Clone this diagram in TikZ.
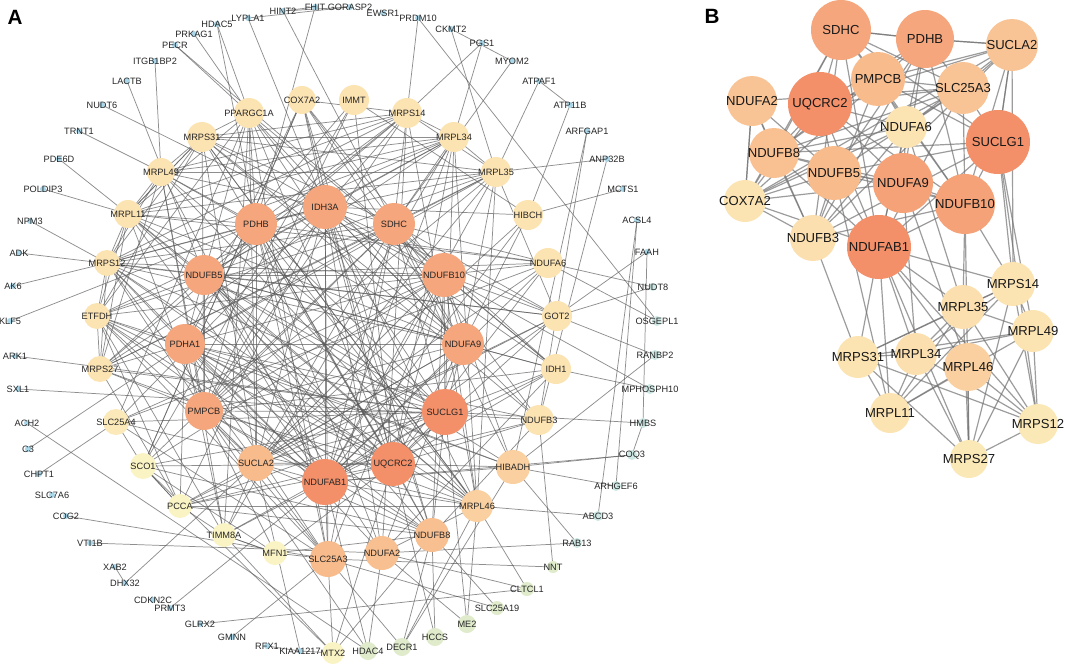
\documentclass[tikz,border=0pt]{standalone}
\usepackage{fontspec}
\setmainfont{Liberation Sans}
\pgfdeclarelayer{back}
\pgfdeclarelayer{edges}
\pgfsetlayers{back,edges,main}
\definecolor{cDeep}{HTML}{F3906A}
\definecolor{cHub}{HTML}{F6A67C}
\definecolor{cMid}{HTML}{F8BB8C}
\definecolor{cLight}{HTML}{FAD0A0}
\definecolor{cRing}{HTML}{FCE3B2}
\definecolor{cPale}{HTML}{FAF3C4}
\definecolor{cGreen}{HTML}{DFEBCB}
\definecolor{cCyan}{HTML}{CDE8E4}
\definecolor{cDot}{HTML}{A9D6E8}
\tikzset{
 gA/.style 2 args={circle,inner sep=0pt,minimum size=#1*1.5pt,fill=#2},
 lblA/.style={font=\fontsize{6.9}{7}\selectfont,text=black!85,inner sep=0pt},
 lblB/.style={font=\fontsize{9.8}{11}\selectfont,text=black!90,inner sep=0pt},
 edgeA/.style={draw=black!65,line width=0.55pt,opacity=0.68},
 edgeB/.style={draw=black!55,line width=0.9pt,opacity=0.7},
 panel/.style={font=\bfseries\fontsize{15.5}{16}\selectfont,inner sep=0pt}
}
\newcommand\CoreA[6]{\node[gA={#4}{#5},alias=#6,label={[lblA]center:#1}] (#1) at (#2,#3) {};}
\newcommand\DotA[5]{\node[gA={#4}{#5},label={[lblA]center:#1}] (#1) at (#2,#3) {};}
\newcommand\NodeB[6]{\node[gA={#4}{#5},alias=#6,label={[lblB]center:#1}] (b#1) at (#2,#3) {};}
\begin{document}
\begin{tikzpicture}[x=0.75pt,y=-0.75pt]
\useasboundingbox (0,0) rectangle (1065,664);
\begin{pgfonlayer}{back}\fill[white] (0,0) rectangle (1065,664);\end{pgfonlayer}
\node[panel] (pA) at (15,17) {A};
\node[panel] (pB) at (712,16) {B};
% ---------- Panel A: core nodes
\CoreA{IDH3A}{325}{207}{22}{cHub}{c1}
\CoreA{PDHB}{256}{224}{21}{cHub}{c2}
\CoreA{SDHC}{394}{224}{21}{cHub}{c3}
\CoreA{NDUFB5}{204}{275}{20}{cHub}{c4}
\CoreA{NDUFB10}{444}{275}{22}{cHub}{c5}
\CoreA{PDHA1}{185}{344}{20}{cHub}{c6}
\CoreA{NDUFA9}{463}{344}{21}{cHub}{c7}
\CoreA{PMPCB}{204}{411}{19}{cHub}{c8}
\CoreA{SUCLG1}{445}{412}{23}{cDeep}{c9}
\CoreA{SUCLA2}{256}{463}{18}{cMid}{c10}
\CoreA{NDUFAB1}{325}{482}{23}{cDeep}{c11}
\CoreA{UQCRC2}{393}{464}{22}{cDeep}{c12}
\CoreA{PPARGC1A}{249}{113}{15}{cRing}{c13}
\CoreA{COX7A2}{302}{100}{14}{cRing}{c14}
\CoreA{IMMT}{354}{100}{15}{cRing}{c15}
\CoreA{MRPS14}{407}{113}{15}{cRing}{c16}
\CoreA{MRPL34}{454}{137}{15}{cRing}{c17}
\CoreA{MRPL35}{496}{172}{15}{cRing}{c18}
\CoreA{HIBCH}{528}{215}{15}{cRing}{c19}
\CoreA{NDUFA6}{548}{263}{15}{cRing}{c20}
\CoreA{GOT2}{557}{316}{15}{cRing}{c21}
\CoreA{IDH1}{556}{369}{15}{cRing}{c22}
\CoreA{NDUFB3}{539}{420}{15}{cRing}{c23}
\CoreA{HIBADH}{513}{467}{17}{cLight}{c24}
\CoreA{MRPL46}{477}{506}{16}{cLight}{c25}
\CoreA{NDUFB8}{432}{535}{17}{cMid!80!cLight}{c26}
\CoreA{NDUFA2}{382}{553}{17}{cMid!80!cLight}{c27}
\CoreA{SLC25A3}{328}{559}{18}{cMid}{c28}
\CoreA{MFN1}{275}{553}{12}{cPale}{c29}
\CoreA{TIMM8A}{224}{535}{12}{cPale}{c30}
\CoreA{PCCA}{180}{506}{12}{cPale}{c31}
\CoreA{SCO1}{143}{466}{13}{cPale}{c32}
\CoreA{SLC25A4}{116}{422}{13}{cRing!60!cPale}{c33}
\CoreA{MRPS27}{100}{369}{13}{cRing}{c34}
\CoreA{ETFDH}{97}{316}{13}{cRing}{c35}
\CoreA{MRPS12}{107}{263}{13}{cRing}{c36}
\CoreA{MRPL11}{128}{214}{14}{cRing}{c37}
\CoreA{MRPL49}{161}{172}{14}{cRing}{c38}
\CoreA{MRPS31}{202}{137}{15}{cRing}{c39}
% ---------- Panel A: peripheral nodes
\DotA{HDAC5}{217}{24}{3}{cDot}
\DotA{LYPLA1}{248}{18}{3}{cDot}
\DotA{HINT2}{283}{11}{3}{cDot}
\DotA{FHIT}{315}{7}{3}{cDot}
\DotA{GORASP2}{350}{7}{3}{cDot}
\DotA{EWSR1}{383}{13}{3}{cDot}
\DotA{PRDM10}{418}{18}{3}{cDot}
\DotA{CKMT2}{451}{29}{3}{cDot}
\DotA{PGS1}{482}{43}{3}{cDot}
\DotA{MYOM2}{512}{61}{3}{cDot}
\DotA{ATPAF1}{539}{81}{3}{cDot}
\DotA{ATP11B}{570}{105}{3}{cDot}
\DotA{ARFGAP1}{587}{131}{3}{cDot}
\DotA{ANP32B}{607}{159}{3}{cDot}
\DotA{MCTS1}{623}{189}{3}{cDot}
\DotA{ACSL4}{637}{220}{3}{cDot}
\DotA{FAAH}{647}{252}{3}{cDot}
\DotA{NUDT8}{653}{287}{4}{cCyan}
\DotA{OSGEPL1}{657}{321}{5}{cCyan}
\DotA{RANBP2}{655}{355}{5}{cCyan}
\DotA{MPHOSPH10}{650}{389}{5}{cCyan}
\DotA{HMBS}{643}{423}{5}{cCyan}
\DotA{COQ3}{632}{455}{5}{cCyan}
\DotA{ARHGEF6}{616}{486}{5}{cCyan}
\DotA{ABCD3}{598}{516}{5}{cCyan}
\DotA{RAB13}{577}{543}{5}{cCyan}
\DotA{NNT}{553}{567}{6}{cGreen}
\DotA{CLTCL1}{527}{589}{7}{cGreen}
\DotA{SLC25A19}{497}{608}{7}{cGreen}
\DotA{ME2}{467}{624}{9}{cGreen}
\DotA{HCCS}{435}{637}{9}{cGreen}
\DotA{DECR1}{402}{647}{9}{cGreen}
\DotA{HDAC4}{368}{651}{9}{cGreen}
\DotA{MTX2}{333}{653}{11}{cPale}
\DotA{KIAA1217}{300}{651}{3}{cDot}
\DotA{RFX1}{267}{646}{3}{cDot}
\DotA{GMNN}{232}{637}{3}{cDot}
\DotA{GLRX2}{200}{624}{3}{cDot}
\DotA{PRMT3}{170}{608}{3}{cDot}
\DotA{CDKN2C}{153}{600}{3}{cDot}
\DotA{DHX32}{125}{583}{3}{cDot}
\DotA{XAB2}{115}{567}{3}{cDot}
\DotA{VTI1B}{90}{543}{3}{cDot}
\DotA{COG2}{66}{516}{3}{cDot}
\DotA{SLC7A6}{52}{495}{3}{cDot}
\DotA{CHPT1}{39}{474}{3}{cDot}
\DotA{C3}{28}{449}{3}{cDot}
\DotA{ACH2}{27}{423}{3}{cDot}
\DotA{SXL1}{18}{389}{3}{cDot}
\DotA{ARK1}{15}{356}{3}{cDot}
\DotA{KLF5}{10}{321}{3}{cDot}
\DotA{AK6}{13}{286}{3}{cDot}
\DotA{ADK}{19}{253}{3}{cDot}
\DotA{NPM3}{30}{221}{3}{cDot}
\DotA{POLDIP3}{43}{189}{3}{cDot}
\DotA{PDE6D}{59}{159}{3}{cDot}
\DotA{TRNT1}{79}{131}{3}{cDot}
\DotA{NUDT6}{102}{105}{3}{cDot}
\DotA{LACTB}{127}{81}{3}{cDot}
\DotA{ITGB1BP2}{155}{61}{3}{cDot}
\DotA{PECR}{175}{45}{3}{cDot}
\DotA{PRKAG1}{194}{34}{3}{cDot}
% ---------- Panel B nodes
\NodeB{NDUFA2}{752}{101}{25}{cMid!55!cLight}{t6}
\NodeB{SDHC}{841}{30}{30}{cHub}{t1}
\NodeB{PDHB}{925}{39}{29}{cHub}{t2}
\NodeB{SUCLA2}{1012}{45}{26}{cMid!55!cLight}{t3}
\NodeB{PMPCB}{878}{79}{27}{cMid}{t4}
\NodeB{SLC25A3}{963}{88}{26}{cMid!55!cLight}{t5}
\NodeB{UQCRC2}{820}{104}{32}{cDeep}{t7}
\NodeB{NDUFA6}{906}{127}{21}{cRing}{t8}
\NodeB{SUCLG1}{998}{142}{32}{cDeep}{t9}
\NodeB{NDUFB8}{774}{153}{25}{cMid!70!cLight}{t10}
\NodeB{NDUFB5}{834}{173}{27}{cMid}{t11}
\NodeB{NDUFA9}{903}{183}{30}{cHub!80!cDeep}{t12}
\NodeB{COX7A2}{745}{201}{21}{cRing}{t13}
\NodeB{NDUFB10}{965}{204}{30}{cHub!80!cDeep}{t14}
\NodeB{NDUFB3}{813}{238}{23}{cRing!80!cLight}{t15}
\NodeB{NDUFAB1}{879}{247}{32}{cDeep}{t16}
\NodeB{MRPS14}{1013}{284}{22}{cRing}{m1}
\NodeB{MRPL35}{963}{307}{22}{cRing!80!cLight}{m2}
\NodeB{MRPL49}{1033}{331}{21}{cRing}{m3}
\NodeB{MRPS31}{858}{357}{21}{cRing}{m4}
\NodeB{MRPL34}{916}{354}{21}{cRing!80!cLight}{m5}
\NodeB{MRPL46}{968}{367}{24}{cLight}{m6}
\NodeB{MRPL11}{890}{413}{20}{cRing}{m7}
\NodeB{MRPS12}{1038}{424}{20}{cRing!70!cPale}{m8}
\NodeB{MRPS27}{969}{459}{19}{cRing!70!cPale}{m9}
% ---------- edges
\begin{pgfonlayer}{edges}
% Panel A core network
\foreach \i in {1,...,38}{
  \pgfmathtruncatemacro\myk{\i+1}
  \foreach \j in {\myk,...,39}{
    \pgfmathtruncatemacro\myr{mod(mod(\i*\i,97)*37+mod(\j*\j,89)*11+\i*\j*7+5,100)}
    \pgfmathtruncatemacro\myt{\j<13 ? 74 : (\i<13 ? 46 : 11)}
    \ifnum\myr<\myt\relax \draw[edgeA] (c\i.center) -- (c\j.center);\fi
  }
}
\foreach \a/\b in {MRPS14/MRPL34,MRPS14/MRPL35,MRPS14/MRPL46,MRPS14/MRPS27,MRPS14/MRPS12,MRPS14/MRPL11,MRPS14/MRPL49,MRPS14/MRPS31,
 MRPL34/MRPL35,MRPL34/MRPL46,MRPL34/MRPS27,MRPL34/MRPS12,MRPL34/MRPL11,MRPL34/MRPL49,MRPL34/MRPS31,
 MRPL35/MRPL46,MRPL35/MRPS27,MRPL35/MRPL11,MRPL35/MRPL49,MRPL35/MRPS31,
 MRPL46/MRPS27,MRPL46/MRPS12,MRPL46/MRPL11,MRPL46/MRPL49,MRPL46/MRPS31,
 MRPS27/MRPS12,MRPS27/MRPL11,MRPS27/MRPL49,MRPS27/ETFDH,MRPS12/MRPL11,MRPS12/MRPL49,MRPS12/MRPS31,
 MRPL11/MRPL49,MRPL11/MRPS31,MRPL49/MRPS31,ETFDH/PDHA1,ETFDH/MRPS12,SCO1/PCCA,SCO1/SLC25A4,PCCA/TIMM8A,TIMM8A/MFN1,MFN1/SLC25A3,SCO1/COX7A2,
 HDAC5/PPARGC1A,HDAC5/PDHB,PRKAG1/PPARGC1A,PECR/PPARGC1A,PECR/NDUFB10,LYPLA1/IDH3A,LYPLA1/GORASP2,HINT2/FHIT,HINT2/GORASP2,HINT2/SDHC,FHIT/PDHB,
 PRDM10/MRPS14,PRDM10/OSGEPL1,CKMT2/MYOM2,CKMT2/MRPL35,PGS1/MRPS14,PGS1/MRPL34,MYOM2/SDHC,ATPAF1/ATP11B,ATPAF1/MRPL35,ATP11B/HIBCH,
 ARFGAP1/HIBADH,ARFGAP1/NDUFB3,ANP32B/MRPL35,ANP32B/NDUFB3,MCTS1/HIBCH,ACSL4/ABCD3,ACSL4/ARHGEF6,FAAH/GOT2,FAAH/HMBS,NUDT8/NDUFA6,NUDT8/GOT2,
 OSGEPL1/NDUFA6,RANBP2/GOT2,RANBP2/HIBADH,MPHOSPH10/IDH1,MPHOSPH10/NDUFB10,HMBS/COQ3,HMBS/SUCLG1,COQ3/HIBADH,COQ3/NDUFAB1,ARHGEF6/HIBADH,
 ABCD3/MRPL46,RAB13/NDUFA2,RAB13/HIBADH,NNT/NDUFB3,NNT/SLC25A3,CLTCL1/MRPL46,CLTCL1/NDUFA2,SLC25A19/NDUFB8,SLC25A19/SLC25A3,
 ME2/MRPL46,ME2/NDUFA2,ME2/SUCLG1,HCCS/NDUFB8,HCCS/UQCRC2,DECR1/NDUFB8,DECR1/SLC25A3,DECR1/HIBADH,DECR1/MRPL46,HDAC4/NDUFA2,HDAC4/NDUFAB1,
 HDAC4/PMPCB,MTX2/SLC25A3,MTX2/TIMM8A,MTX2/SCO1,MTX2/NDUFB8,MTX2/UQCRC2,KIAA1217/RFX1,KIAA1217/MTX2,KIAA1217/SUCLA2,GMNN/SLC25A3,
 GLRX2/CLTCL1,PRMT3/NDUFAB1,DHX32/XAB2,DHX32/SUCLA2,VTI1B/NDUFA2,COG2/SLC25A3,CHPT1/SLC25A4,C3/PDHA1,ACH2/HDAC4,SXL1/NDUFB3,ARK1/SUCLG1,
 KLF5/PDHB,AK6/MRPS12,ADK/NDUFB5,NPM3/MRPS12,POLDIP3/MRPL11,PDE6D/MRPL11,TRNT1/MRPL49,NUDT6/NDUFB10,LACTB/NDUFB5,ITGB1BP2/MRPL49}
  {\draw[edgeA] (\a.center) -- (\b.center);}
% Panel B
\foreach \i in {1,...,15}{
  \pgfmathtruncatemacro\myk{\i+1}
  \foreach \j in {\myk,...,16}{
    \pgfmathtruncatemacro\myr{mod(\i*\i*7+\j*\j*3+\i*\j*11+3,100)}
    \ifnum\myr<62\relax \draw[edgeB] (t\i.center) -- (t\j.center);\fi
  }
}
\foreach \i in {1,...,8}{
  \pgfmathtruncatemacro\myk{\i+1}
  \foreach \j in {\myk,...,9}{
    \pgfmathtruncatemacro\myr{mod(\i*\j+\i,7)}
    \ifnum\myr>0\relax \draw[edgeB] (m\i.center) -- (m\j.center);\fi
  }
}
\foreach \a/\b in {NDUFB3/MRPS31,NDUFAB1/MRPL11,NDUFAB1/MRPL34,NDUFAB1/MRPL35,NDUFAB1/MRPS14,NDUFAB1/MRPL46,NDUFAB1/MRPS27,NDUFAB1/MRPS31,
 NDUFA9/MRPL34,NDUFA9/MRPL46,NDUFB10/MRPL35,NDUFB10/MRPS14,NDUFB10/MRPS27,SUCLG1/MRPL49,SUCLG1/MRPS14,SUCLA2/MRPS14,NDUFA6/MRPL35,
 NDUFB5/MRPL11,NDUFAB1/MRPS12,SUCLG1/MRPS12,SDHC/PDHB,PDHB/SUCLA2,SUCLA2/SUCLG1,NDUFA2/COX7A2}
  {\draw[edgeB] (b\a.center) -- (b\b.center);}
\end{pgfonlayer}
\end{tikzpicture}
\end{document}
